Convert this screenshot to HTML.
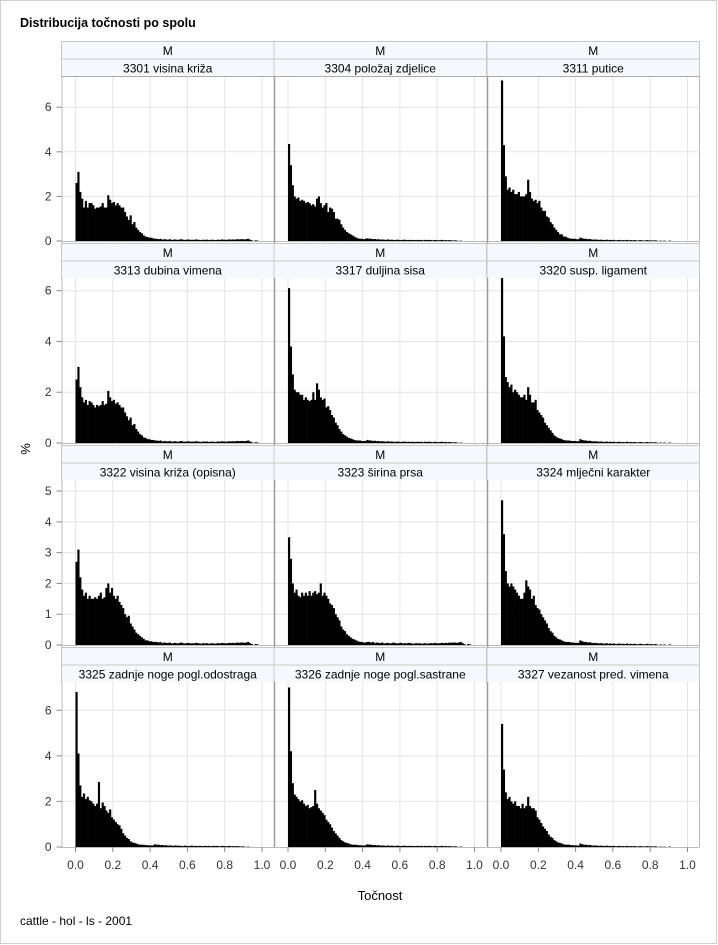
<!DOCTYPE html>
<html><head><meta charset="utf-8"><style>
html,body{margin:0;padding:0;background:#fff}
svg{display:block;font-family:"Liberation Sans",sans-serif}
</style></head><body>
<svg id="chart" width="718" height="945" viewBox="0 0 718 945" xmlns="http://www.w3.org/2000/svg">
<rect x="0.5" y="0.5" width="716" height="943" fill="#fff" stroke="#cfcfcf"/>
<text x="20" y="27" font-size="12.5" font-weight="bold" fill="#000">Distribucija točnosti po spolu</text>
<text x="30" y="449" font-size="13" fill="#000" text-anchor="middle" transform="rotate(-90 30 449)">%</text>
<text x="380" y="900" font-size="13" fill="#000" text-anchor="middle">Točnost</text>
<text x="20" y="925" font-size="12" fill="#000">cattle - hol - ls - 2001</text>
<g id="panels"></g>
</svg>
<script>
const panelLabels = ["3301 visina križa","3304 položaj zdjelice","3311 putice","3313 dubina vimena","3317 duljina sisa","3320 susp. ligament","3322 visina križa (opisna)","3323 širina prsa","3324 mlječni karakter","3325 zadnje noge pogl.odostraga","3326 zadnje noge pogl.sastrane","3327 vezanost pred. vimena"];
const groupLabel = "M";
const xTickLabels = ["0.0","0.2","0.4","0.6","0.8","1.0"];
const xTicks = [0,0.2,0.4,0.6,0.8,1.0];
const rowYMax = [7.4,6.5,5.36,7.24];
const rowYTicks = [[0,2,4,6],[0,2,4,6],[0,1,2,3,4,5],[0,2,4,6]];
const binWidth = 0.01;

const tailA = [0.1,0.1,0.08,0.1,0.06,0.08,0.07,0.06,0.08,0.05,0.06,0.07,0.05,0.06,0.08,0.06,0.05,0.06,0.07,0.05,0.06,0.05,0.07,0.06,0.05,0.04,0.06,0.05,0.06,0.04,0.05,0.06,0.04,0.05,0.06,0.05,0.07,0.06,0.05,0.06,0.07,0.06,0.07,0.06,0.08,0.07,0.08,0.08,0.07,0.08,0.1,0.06,0.03,0,0.03,0.02];
const tailB = [0.12,0.1,0.1,0.08,0.09,0.07,0.08,0.06,0.07,0.06,0.05,0.07,0.05,0.06,0.05,0.04,0.06,0.05,0.04,0.05,0.06,0.04,0.05,0.04,0.05,0.04,0.04,0.05,0.04,0.05,0.03,0.05,0.04,0.05,0.04,0.03,0.05,0.04,0.03,0.04,0.05,0.03,0.04,0.03,0.04,0.03,0.02,0.03,0.02,0,0.02,0,0,0,0,0];
const tailC = [0.15,0.12,0.1,0.1,0.08,0.09,0.07,0.06,0.07,0.06,0.05,0.06,0.05,0.04,0.06,0.04,0.05,0.04,0.05,0.03,0.04,0.05,0.03,0.04,0.03,0.05,0.03,0.04,0.03,0.04,0.03,0.02,0.04,0.03,0.02,0.03,0.04,0.02,0.03,0.02,0.03,0.02,0,0.02,0,0.02,0,0,0.02,0,0,0,0,0,0,0];

const head1 = [2.6,3.1,2.2,1.9,1.5,1.8,1.5,1.7,1.7,1.6,1.45,1.5,1.5,1.55,1.7,1.5,1.5,2.05,1.85,1.7,1.75,1.6,1.7,1.6,1.5,1.5,1.3,1.1,0.95,1.15,0.75,0.85,0.6,0.5,0.4,0.35,0.25,0.2,0.18,0.15,0.15,0.12];
const head2 = [4.35,3.4,2.5,2.0,1.9,1.95,1.8,1.85,1.8,1.7,1.75,1.7,1.6,1.65,1.55,1.9,2.0,1.7,1.5,1.6,1.7,1.3,1.5,1.45,1.3,1.0,1.0,0.95,0.75,0.6,0.5,0.4,0.35,0.3,0.25,0.2,0.15,0.12,0.1,0.1,0.08,0.1];
const head3 = [7.2,4.3,2.9,2.3,2.4,2.2,2.3,2.1,2.1,2.2,2.0,2.0,2.0,2.1,2.75,2.2,1.9,1.8,1.85,1.7,1.8,1.5,1.35,1.35,1.1,1.05,0.85,0.75,0.6,0.5,0.4,0.3,0.3,0.2,0.2,0.15,0.12,0.1,0.1,0.1,0.08,0.08];
const head4 = [2.5,3.0,2.2,1.8,1.6,1.7,1.5,1.65,1.6,1.5,1.4,1.5,1.45,1.5,1.65,1.5,1.55,2.05,1.8,1.65,1.7,1.55,1.6,1.5,1.4,1.4,1.2,1.05,0.9,1.0,0.7,0.75,0.55,0.45,0.35,0.3,0.22,0.2,0.15,0.15,0.12,0.12];
const head5 = [6.1,3.8,2.7,2.1,2.0,2.0,1.9,1.9,1.7,1.8,1.7,1.65,1.7,2.0,1.7,2.35,2.1,1.8,1.7,1.75,1.4,1.45,1.3,1.1,1.0,0.8,0.7,0.55,0.45,0.35,0.3,0.25,0.2,0.18,0.15,0.12,0.1,0.1,0.1,0.08,0.08,0.08];
const head6 = [6.5,4.2,2.6,2.4,2.2,2.3,2.0,2.1,2.0,1.9,1.8,1.8,1.9,1.7,2.2,1.9,1.6,1.6,1.7,1.3,1.2,1.1,1.0,0.8,0.7,0.6,0.5,0.4,0.3,0.25,0.2,0.18,0.15,0.12,0.1,0.1,0.1,0.08,0.08,0.08,0.07,0.07];
const head7 = [2.7,3.1,2.2,1.8,1.6,1.7,1.5,1.6,1.5,1.5,1.55,1.5,1.6,1.7,1.5,1.55,1.85,2.0,1.7,1.85,1.6,1.5,1.6,1.4,1.3,1.2,1.0,0.9,0.95,0.7,0.6,0.5,0.4,0.35,0.3,0.25,0.2,0.15,0.15,0.12,0.12,0.1];
const head8 = [3.5,2.8,2.0,1.7,1.8,1.6,1.55,1.7,1.6,1.7,1.6,1.75,1.6,1.7,1.75,1.65,1.7,2.0,1.6,1.7,1.6,1.5,1.35,1.3,1.2,1.0,0.9,0.8,0.6,0.5,0.45,0.35,0.3,0.25,0.2,0.18,0.15,0.12,0.1,0.1,0.08,0.08];
const head9 = [4.7,3.6,2.4,2.0,1.9,2.0,1.9,1.8,1.7,1.6,1.5,1.5,1.7,2.1,1.9,1.8,1.5,1.6,1.3,1.2,1.15,1.0,0.9,0.8,0.7,0.55,0.45,0.4,0.3,0.25,0.2,0.18,0.15,0.12,0.1,0.1,0.1,0.08,0.08,0.07,0.07,0.07];
const head10 = [6.8,4.1,2.7,2.2,2.35,2.1,2.2,2.05,2.0,1.9,1.8,1.9,2.85,1.7,1.95,1.8,1.6,1.5,1.65,1.3,1.2,1.1,1.0,0.95,0.8,0.6,0.5,0.4,0.35,0.25,0.2,0.18,0.15,0.12,0.1,0.1,0.1,0.08,0.08,0.07,0.07,0.07];
const head11 = [7.0,4.2,2.8,2.3,2.2,2.1,2.0,2.05,1.9,1.8,1.85,1.7,1.75,1.8,2.5,1.9,1.7,1.6,1.5,1.4,1.2,1.1,1.0,0.85,0.7,0.6,0.5,0.4,0.3,0.25,0.2,0.18,0.15,0.12,0.1,0.1,0.1,0.08,0.08,0.07,0.07,0.07];
const head12 = [5.4,3.4,2.4,2.1,2.2,2.0,1.9,2.0,1.8,1.8,1.7,1.9,1.7,1.8,2.2,1.8,1.7,1.7,1.6,1.3,1.2,1.05,0.9,0.8,0.7,0.55,0.45,0.4,0.3,0.25,0.2,0.18,0.15,0.12,0.1,0.1,0.1,0.08,0.08,0.07,0.07,0.06];

const seriesValues = [head1.concat(tailA),head2.concat(tailB),head3.concat(tailC),head4.concat(tailA),head5.concat(tailB),head6.concat(tailC),head7.concat(tailA),head8.concat(tailA),head9.concat(tailC),head10.concat(tailB),head11.concat(tailB),head12.concat(tailC)];

const NS = "http://www.w3.org/2000/svg";
const root = document.getElementById('panels');
const colLeft = [61.5,274,487];
const colW = 212.5;
const rowTop = [41,243,445,647];
const stripH = 17.5;
const plotH = 165;
function mk(tag, attrs, parent){const e=document.createElementNS(NS,tag);for(const k in attrs)e.setAttribute(k,attrs[k]);parent.appendChild(e);return e;}

for(let r=0;r<4;r++){
  const plotTop = rowTop[r]+35;
  const y0 = plotTop+plotH;
  const plotBottom = r===3 ? y0 : y0+2;
  const yMax = rowYMax[r];
  const yScale = v => y0 - v/yMax*plotH;
  for(let c=0;c<3;c++){
    const idx = r*3+c;
    const L = colLeft[c];
    const xScale = v => L+14 + v*186.5;
    const g = mk('g',{},root);
    
    
    // strips
    const s1 = mk('rect',{x:L,y:rowTop[r]+0.5,width:colW,height:stripH,fill:'#f7f8fe',stroke:'#c8c8c8'},g);
    
    
    const t1 = mk('text',{x:L+colW/2,y:rowTop[r]+14,'font-size':12,'text-anchor':'middle',fill:'#000'},g);
    t1.textContent = groupLabel;
    
    
    const s2 = mk('rect',{x:L,y:rowTop[r]+stripH+0.5,width:colW,height:stripH,fill:'#f7f8fe',stroke:'#c8c8c8'},g);
    
    
    const t2 = mk('text',{x:L+colW/2,y:rowTop[r]+stripH+14,'font-size':12,'text-anchor':'middle',fill:'#000'},g);
    t2.textContent = panelLabels[idx];
    
    
    // plot bg
    const bg = mk('rect',{x:L,y:plotTop,width:colW,height:plotBottom-plotTop,fill:'#fff'},g);
    
    
    xTicks.forEach(v=>{
      const gl = mk('line',{x1:xScale(v),x2:xScale(v),y1:plotTop,y2:plotBottom,stroke:'#e4e4e4','stroke-width':1},g);
      
      
    });
    rowYTicks[r].forEach(v=>{
      if(v===0) return;
      const gl = mk('line',{x1:L,x2:L+colW,y1:yScale(v),y2:yScale(v),stroke:'#e4e4e4','stroke-width':1},g);
      
      
    });
    const vals = seriesValues[idx];
    const bw = xScale(binWidth)-xScale(0);
    vals.forEach((v,i)=>{
      if(v<=0) return;
      const x = xScale(i*binWidth);
      const y = yScale(v);
      const b = mk('rect',{x:x,y:y,width:bw+0.3,height:Math.max(y0-y,0.8),fill:'#000'},g);
      
      
    });
    const bl = mk('line',{x1:L,x2:L+colW,y1:y0+0.5,y2:y0+0.5,stroke:'#bbb','stroke-width':1},g);
    
    
    // column separators
    const sepL = mk('line',{x1:L+0.5,x2:L+0.5,y1:plotTop,y2:plotBottom,stroke:c===0?'#bbb':'#999','stroke-width':c===0?1:1.5},g);
    
    
    if(c===2){
      const sepR = mk('line',{x1:L+colW,x2:L+colW,y1:plotTop,y2:plotBottom,stroke:'#bbb','stroke-width':1},g);
      
      
    }
    if(r===0){
      const tp = mk('line',{x1:L,x2:L+colW,y1:plotTop+0.5,y2:plotTop+0.5,stroke:'#aaa'},g);
      
      
    }
    // y ticks
    if(c===0){
      rowYTicks[r].forEach(v=>{
        const tk = mk('line',{x1:L-5,x2:L,y1:yScale(v),y2:yScale(v),stroke:'#888'},g);
        
        
        const tl = mk('text',{x:L-10,y:yScale(v)+4,'font-size':12,'text-anchor':'end',fill:'#333'},g);
        tl.textContent = String(v);
        
        
      });
    }
    // x ticks
    if(r===3){
      xTicks.forEach((v,k)=>{
        const tk = mk('line',{x1:xScale(v),x2:xScale(v),y1:y0,y2:y0+5,stroke:'#888'},g);
        
        
        const tl = mk('text',{x:xScale(v),y:y0+22,'font-size':12,'text-anchor':'middle',fill:'#333'},g);
        tl.textContent = xTickLabels[k];
        
        
      });
    }
  }
}
</script>
</body></html>
